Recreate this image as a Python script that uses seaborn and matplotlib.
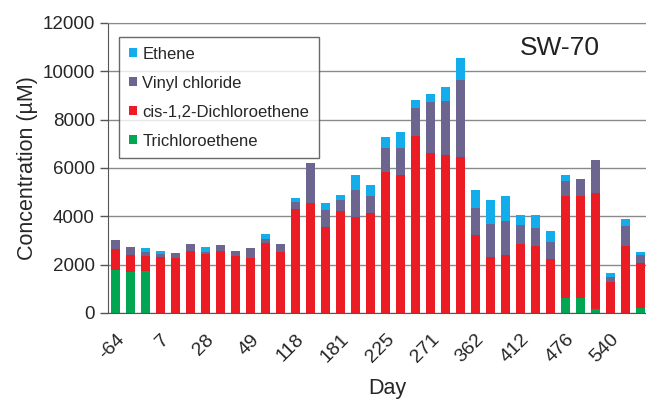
import matplotlib
matplotlib.use("Agg")
import matplotlib.pyplot as plt
import numpy as np
import pandas as pd
import seaborn as sns
from matplotlib.patches import Patch

# Concentrations (uM) per sampling event, SW-70
tce = [1780, 1700, 1720, 0, 0, 0, 0, 0, 0, 0, 0, 0,
       0, 0, 0, 0, 0, 0, 0, 0, 0, 0, 0, 0,
       0, 0, 0, 0, 0, 0, 600, 600, 150, 0, 0, 190]
dce = [850, 690, 640, 2320, 2260, 2570, 2430, 2570, 2350, 2260, 2900, 2530,
       4290, 4560, 3560, 4210, 3960, 4150, 5830, 5690, 7340, 6630, 6545, 6450,
       3240, 2300, 2390, 2860, 2760, 2230, 4220, 4220, 4810, 1270, 2760, 1860]
vc = [410, 320, 180, 110, 230, 280, 100, 230, 220, 410, 180, 320,
      300, 1650, 690, 480, 1140, 710, 990, 1130, 1130, 2090, 2210, 3190,
      1100, 1400, 1400, 760, 760, 710, 630, 730, 1370, 230, 850, 340]
ethene = [0, 0, 140, 140, 0, 0, 180, 0, 0, 0, 180, 0,
          180, 0, 320, 180, 630, 450, 480, 650, 360, 350, 600, 910,
          760, 990, 1030, 450, 550, 450, 260, 0, 0, 140, 290, 140]

# only every third sample is labelled on the axis
day_labels = ["-64", "7", "28", "49", "118", "181", "225", "271", "362", "412", "476", "540"]

names = ["Ethene", "Vinyl chloride", "cis-1,2-Dichloroethene", "Trichloroethene"]
colors = ["#13ADEB", "#6C6590", "#EC1C24", "#00A651"]

df = pd.DataFrame({"sample": np.arange(len(dce)), "tce": tce, "dce": dce,
                   "vc": vc, "ethene": ethene})
# cumulative heights, drawn from the top layer down
df["l_tce"] = df["tce"]
df["l_dce"] = df["l_tce"] + df["dce"]
df["l_vc"] = df["l_dce"] + df["vc"]
df["l_eth"] = df["l_vc"] + df["ethene"]

sns.set_style("white")
plt.rcParams["font.family"] = ["Liberation Sans", "DejaVu Sans"]

fig = plt.figure(figsize=(6.46, 4.01), dpi=100)
ax = fig.add_axes([0.1672, 0.2195, 0.8638, 0.7232])

for col, c in zip(["l_eth", "l_vc", "l_dce", "l_tce"], colors):
    sns.barplot(data=df, x="sample", y=col, color=c, saturation=1,
                width=0.66, linewidth=0, ax=ax, errorbar=None)

ax.set_xlim(-0.42, 36.7)
ax.set_ylim(0, 12000)
ax.set_yticks(np.arange(0, 12001, 2000))
ax.yaxis.grid(True, color="#8a8a8a", linewidth=1)
ax.set_axisbelow(True)

ax.spines["right"].set_visible(False)
ax.spines["top"].set_color("#8a8a8a")
ax.spines["left"].set_color("#555555")
ax.spines["bottom"].set_color("#555555")

ax.set_xticks(np.arange(0, len(dce), 3))
ax.set_xticklabels(day_labels, rotation=45, ha="right", va="top",
                   rotation_mode="anchor", fontsize=14)
ax.set_xticks(np.arange(-0.5, len(dce), 1), minor=True)
ax.tick_params(axis="x", which="major", length=0, pad=13)
ax.tick_params(axis="x", which="minor", length=5, width=1, color="#555555", direction="out")
ax.tick_params(axis="y", length=6, width=1, color="#555555", labelsize=13.5, left=True)

ax.set_xlabel("Day", fontsize=15.5, labelpad=0)
ax.xaxis.set_label_coords((387 - 108) / 558, -0.225)
ax.set_ylabel("Concentration (\u00b5M)", fontsize=15.5, labelpad=3)

ax.text(0.81, 0.915, "SW-70", transform=ax.transAxes, fontsize=19,
        ha="center", va="center", color="#222222")

handles = [Patch(facecolor=c, edgecolor="none", label=n) for n, c in zip(names, colors)]
leg = ax.legend(handles=handles, loc="upper left", bbox_to_anchor=(0.02, 0.952),
                frameon=True, fancybox=False, fontsize=12, handlelength=0.5,
                handleheight=0.5, handletextpad=0.3, labelspacing=0.84,
                borderpad=0.58, borderaxespad=0)
leg.get_frame().set_edgecolor("#444444")
leg.get_frame().set_linewidth(1)

fig.savefig("out.png", dpi=100)
